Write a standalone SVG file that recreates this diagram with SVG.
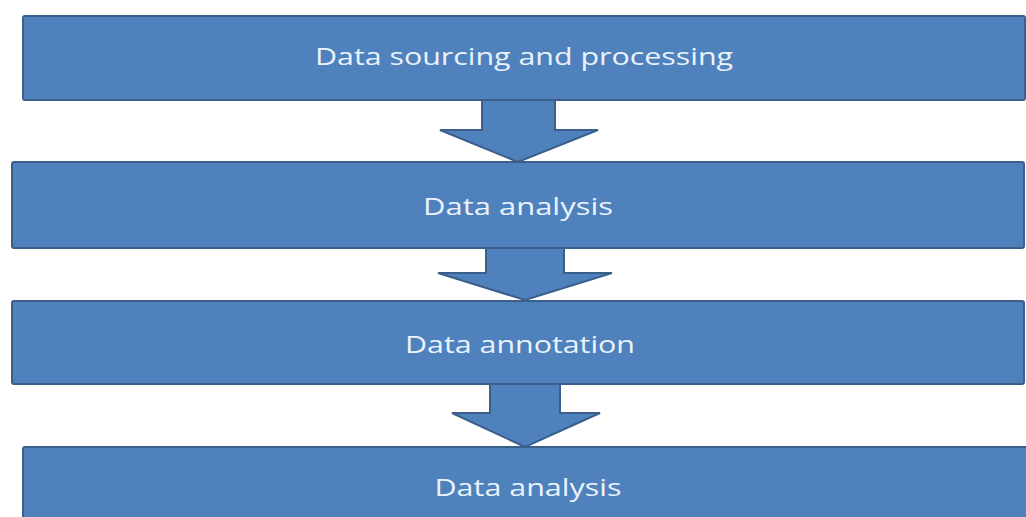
<svg xmlns="http://www.w3.org/2000/svg" width="1026" height="517" viewBox="0 0 1026 517">
<style>
.box{fill:#4f81bd;stroke:#3a5f8b;stroke-width:2}
.arr{fill:#4f81bd;stroke:#3a5f8b;stroke-width:2;stroke-linejoin:miter}
.lbl{font-family:"Open Sans","Liberation Sans",sans-serif;font-size:24px;fill:#eaf2fb;text-anchor:middle}
</style>
<rect width="1026" height="517" fill="#ffffff"/>
<g id="connectors">
<polygon class="arr" points="482,99 555,99 555,130 598,130 518,162 440,130 482,130"/>
<polygon class="arr" points="486,247 564,247 564,273 612,273 525,300 438,273 486,273"/>
<polygon class="arr" points="490,383 560,383 560,413 600,413 525,447 452,413 490,413"/>
</g>
<g id="node1">
<rect class="box" x="23" y="16" width="1002" height="84" rx="2"/>
<text class="lbl" x="524" y="65" textLength="418" lengthAdjust="spacingAndGlyphs">Data sourcing and processing</text>
</g>
<g id="node2">
<rect class="box" x="12" y="162" width="1012" height="86" rx="2"/>
<text class="lbl" x="518" y="215" textLength="190" lengthAdjust="spacingAndGlyphs">Data analysis</text>
</g>
<g id="node3">
<rect class="box" x="12" y="301" width="1012" height="83" rx="2"/>
<text class="lbl" x="520" y="353" textLength="230" lengthAdjust="spacingAndGlyphs">Data annotation</text>
</g>
<g id="node4">
<rect class="box" x="23" y="447" width="1010" height="80" rx="2"/>
<text class="lbl" x="528" y="496" textLength="187" lengthAdjust="spacingAndGlyphs">Data analysis</text>
</g>
</svg>
